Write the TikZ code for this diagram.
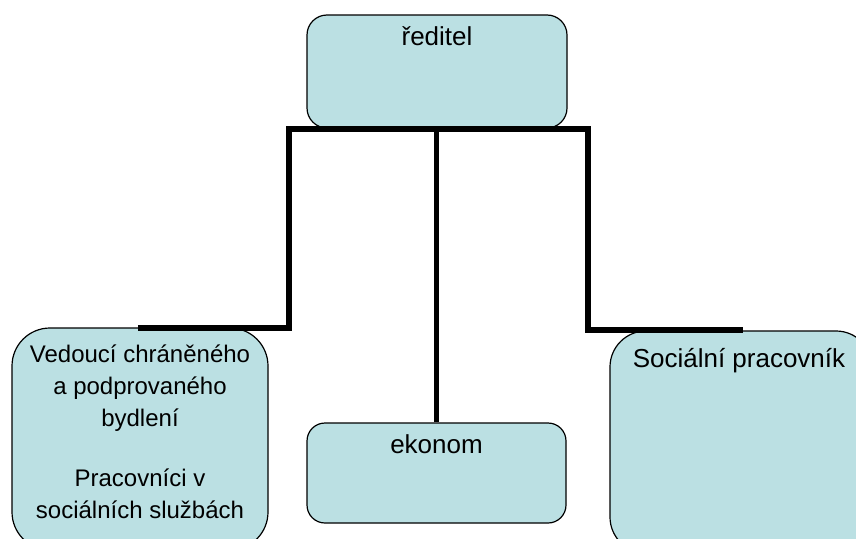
\documentclass[tikz,border=0pt]{standalone}
\usepackage{fontspec}
\setmainfont{Liberation Sans}
\definecolor{boxfill}{RGB}{187,224,227}
\begin{document}
\begin{tikzpicture}[x=1pt,y=-1pt,
  orgbox/.style={draw=black,line width=1.2pt,fill=boxfill,inner sep=0pt},
  lbl/.style={font=\fontsize{26}{32}\selectfont,align=center,inner sep=0pt,text=black},
  lbls/.style={font=\fontsize{24}{32}\selectfont,align=center,inner sep=0pt,text=black},
  conn/.style={draw=black,line width=5.5pt,line join=miter}]
\useasboundingbox (0,0) rectangle (856,538);
\clip (0,0) rectangle (856,538);
\fill[white] (0,0) rectangle (856,538);
% boxes
\node[orgbox,rounded corners=20pt,minimum width=260pt,minimum height=113pt] (top) at (437,71.5) {};
\node[orgbox,rounded corners=38pt,minimum width=256pt,minimum height=222pt] (left) at (140,439) {};
\node[orgbox,rounded corners=18pt,minimum width=259pt,minimum height=100pt] (ekonom) at (436.5,473) {};
\node[orgbox,rounded corners=36pt,minimum width=262pt,minimum height=222pt] (right) at (741,442) {};
% labels
\node[lbl,anchor=base] (ttop) at (437,45) {ředitel};
\node[lbl,anchor=base] (tekon) at (436.5,453) {ekonom};
\node[lbl,anchor=base] (tright) at (739,367) {Sociální pracovník};
\node[lbls,anchor=base] (tleft) at (140,518) {Vedoucí chráněného\\a podprovaného\\bydlení\\[28pt]Pracovníci v\\sociálních službách};
% connectors
\coordinate (bl) at (289,129);
\coordinate (br) at (588,129);
\coordinate (lk) at (289,328);
\coordinate (lend) at (138,328);
\coordinate (rk) at (588,330);
\coordinate (rend) at (743,330);
\draw[conn] (lend) -- (lk) -- (bl) -- (br) -- (rk) -- (rend);
\draw[conn] (ekonom.north) -- (ekonom.north |- top.south);
\end{tikzpicture}
\end{document}
